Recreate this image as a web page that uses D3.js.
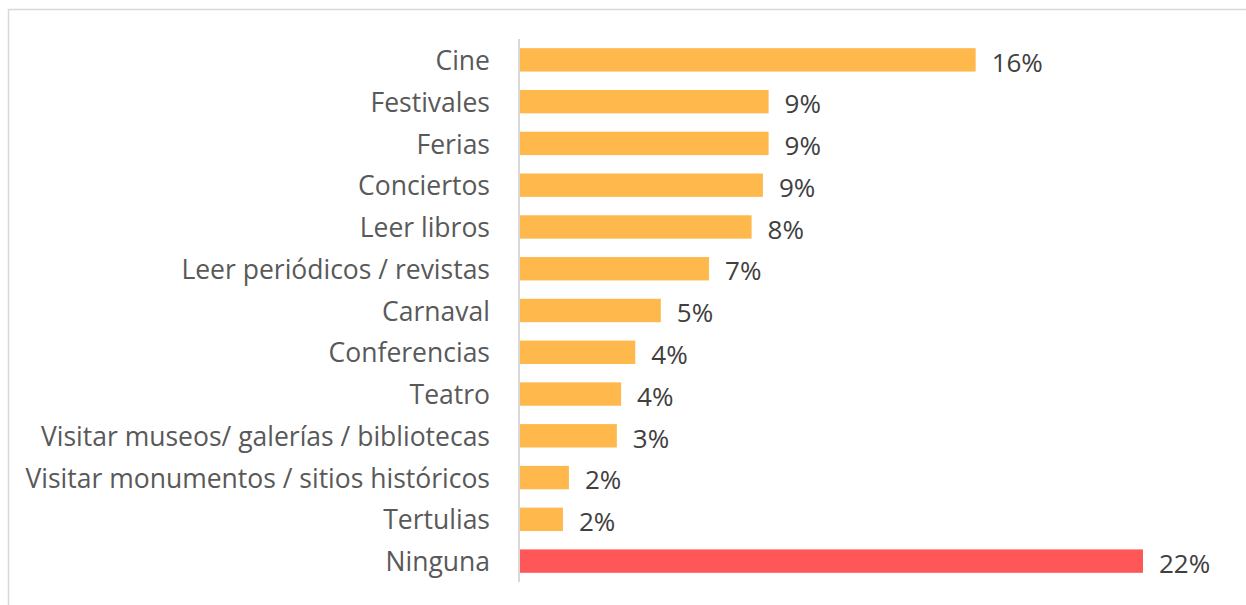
<!DOCTYPE html>
<html>
<head>
<meta charset="utf-8">
<script src="https://cdn.jsdelivr.net/npm/d3@7"></script>
<style>
  html, body { margin: 0; padding: 0; background: #fff; }
  svg { display: block; }
</style>
</head>
<body>
<svg id="chart" width="1246" height="605"></svg>
<script>
// data (percent)
const categories = [
  "Cine", "Festivales", "Ferias", "Conciertos", "Leer libros",
  "Leer periódicos / revistas", "Carnaval", "Conferencias", "Teatro",
  "Visitar museos/ galerías / bibliotecas",
  "Visitar monumentos / sitios históricos", "Tertulias", "Ninguna"
];
const values = [16.1, 8.8, 8.8, 8.6, 8.2, 6.7, 5.0, 4.1, 3.6, 3.45, 1.76, 1.55, 22.0];
const valueLabels = ["16%", "9%", "9%", "9%", "8%", "7%", "5%", "4%", "4%", "3%", "2%", "2%", "22%"];
const highlight = ["Ninguna"];

const rows = categories.map((c, i) => ({ cat: c, value: values[i], label: valueLabels[i] }));

const svg = d3.select("#chart");
const font = "'Open Sans', 'Noto Sans', sans-serif";

// light frame around the chart area
svg.append("rect")
  .attr("x", 8.5).attr("y", 9.5)
  .attr("width", 1300).attr("height", 700)
  .attr("fill", "none")
  .attr("stroke", "#d9d9d9")
  .attr("stroke-width", 1.5);

const x0 = 519;
const x = d3.scaleLinear().domain([0, 22]).range([x0, 1143]);
const y = d3.scaleBand()
  .domain(categories)
  .range([39, 582])
  .paddingInner(0.44)
  .paddingOuter(0.22);

// bars
svg.selectAll("rect.bar")
  .data(rows)
  .join("rect")
    .attr("class", "bar")
    .attr("x", x(0))
    .attr("y", d => y(d.cat))
    .attr("width", d => x(d.value) - x(0))
    .attr("height", y.bandwidth())
    .attr("fill", d => highlight.includes(d.cat) ? "#ff5757" : "#ffb84c");

// category axis (just the line + labels)
const axis = svg.append("g")
  .attr("transform", `translate(${x0},0)`)
  .call(d3.axisLeft(y).tickSize(0).tickPadding(29));
axis.select(".domain").attr("stroke", "#d9d9d9").attr("stroke-width", 2)
  .attr("d", `M0,39V582`);
axis.selectAll("text")
  .attr("fill", "#595959")
  .attr("dy", "0.38em")
  .style("font-family", font)
  .style("font-size", "26.5px");

// value labels
svg.selectAll("text.val")
  .data(rows)
  .join("text")
    .attr("class", "val")
    .attr("x", d => x(d.value) + 16)
    .attr("y", d => y(d.cat) + y.bandwidth() / 2)
    .attr("dy", "0.45em")
    .attr("fill", "#404040")
    .style("font-family", font)
    .style("font-size", "26px")
    .text(d => d.label);
</script>
</body>
</html>
